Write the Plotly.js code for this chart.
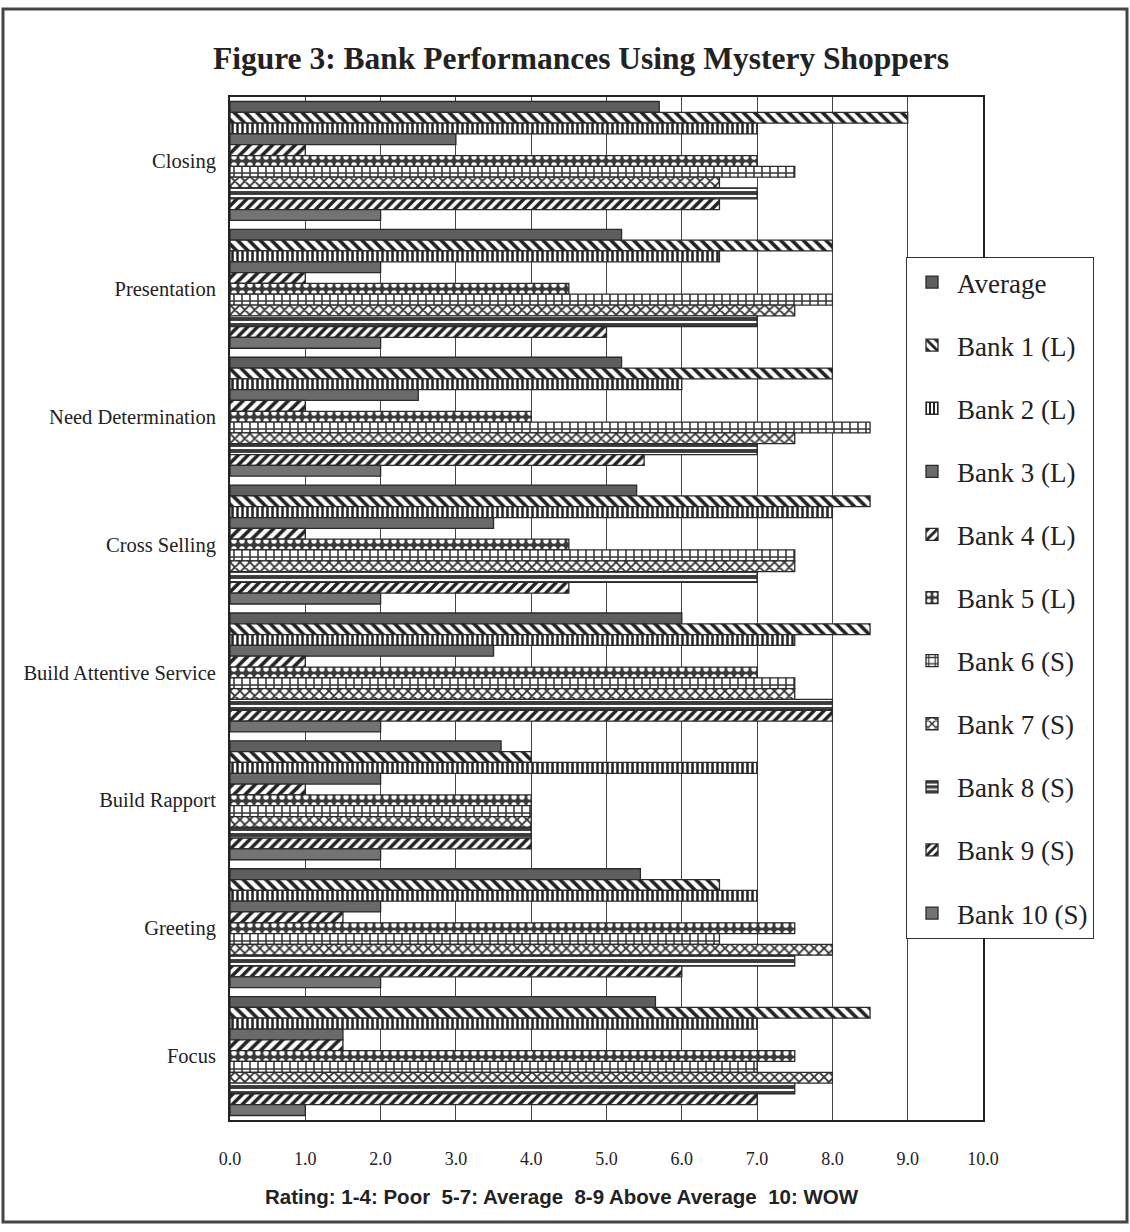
<!DOCTYPE html>
<html>
<head>
<meta charset="utf-8">
<script src="https://cdn.plot.ly/plotly-3.0.1.min.js"></script>
<style>
html,body{margin:0;padding:0;background:#fff;}
#chart{width:1130px;height:1232px;}
</style>
</head>
<body>
<div id="chart"></div>
<script>
// Categories, top to bottom
const categories = ["Closing", "Presentation", "Need Determination", "Cross Selling",
  "Build Attentive Service", "Build Rapport", "Greeting", "Focus"];

const seriesNames = ["Average", "Bank 1 (L)", "Bank 2 (L)", "Bank 3 (L)", "Bank 4 (L)", "Bank 5 (L)",
  "Bank 6 (S)", "Bank 7 (S)", "Bank 8 (S)", "Bank 9 (S)", "Bank 10 (S)"];

// values per series, in category order above
const average = [5.7, 5.2, 5.2, 5.4, 6.0, 3.6, 5.45, 5.65];
const bank1   = [9.0, 8.0, 8.0, 8.5, 8.5, 4.0, 6.5, 8.5];
const bank2   = [7.0, 6.5, 6.0, 8.0, 7.5, 7.0, 7.0, 7.0];
const bank3   = [3.0, 2.0, 2.5, 3.5, 3.5, 2.0, 2.0, 1.5];
const bank4   = [1.0, 1.0, 1.0, 1.0, 1.0, 1.0, 1.5, 1.5];
const bank5   = [7.0, 4.5, 4.0, 4.5, 7.0, 4.0, 7.5, 7.5];
const bank6   = [7.5, 8.0, 8.5, 7.5, 7.5, 4.0, 6.5, 7.0];
const bank7   = [6.5, 7.5, 7.5, 7.5, 7.5, 4.0, 8.0, 8.0];
const bank8   = [7.0, 7.0, 7.0, 7.0, 8.0, 4.0, 7.5, 7.5];
const bank9   = [6.5, 5.0, 5.5, 4.5, 8.0, 4.0, 6.0, 7.0];
const bank10  = [2.0, 2.0, 2.0, 2.0, 2.0, 2.0, 2.0, 1.0];

const seriesValues = [average, bank1, bank2, bank3, bank4, bank5, bank6, bank7, bank8, bank9, bank10];

const xTicks = [0, 1, 2, 3, 4, 5, 6, 7, 8, 9, 10];

// styling per series
const styles = [
  {color: "#5e5e5e", pattern: {shape: ""}},
  {color: "#fff", pattern: {shape: "\\", fgcolor: "#222", bgcolor: "#fff", size: 8, solidity: 0.45}},
  {color: "#fff", pattern: {shape: "|", fgcolor: "#222", bgcolor: "#fff", size: 5, solidity: 0.5}},
  {color: "#6a6a6a", pattern: {shape: ""}},
  {color: "#fff", pattern: {shape: "/", fgcolor: "#222", bgcolor: "#fff", size: 8, solidity: 0.45}},
  {color: "#333", pattern: {shape: ".", fgcolor: "#fff", bgcolor: "#3a3a3a", size: 8, solidity: 0.35}},
  {color: "#fff", pattern: {shape: "+", fgcolor: "#333", bgcolor: "#fff", size: 8, solidity: 0.35}},
  {color: "#fff", pattern: {shape: "x", fgcolor: "#333", bgcolor: "#fff", size: 7, solidity: 0.45}},
  {color: "#333", pattern: {shape: "-", fgcolor: "#fff", bgcolor: "#3a3a3a", size: 6, solidity: 0.35}},
  {color: "#fff", pattern: {shape: "/", fgcolor: "#222", bgcolor: "#fff", size: 7, solidity: 0.5}},
  {color: "#737373", pattern: {shape: ""}}
];

const traces = seriesNames.map((name, i) => ({
  type: "bar",
  orientation: "h",
  name: name,
  x: seriesValues[i],
  y: categories,
  legendgroup: "g" + i,
  marker: {
    color: styles[i].color,
    pattern: styles[i].pattern,
    line: {color: "#2a2a2a", width: 1.3}
  },
  hoverinfo: "x+name"
}));

const L = 230, R = 147, T = 97, B = 112;
const W = 1130 - L - R, H = 1232 - T - B;
const px2x = p => (p - L) / W;
const py2y = p => 1 - (p - T) / H;

const layout = {
  width: 1130,
  height: 1232,
  margin: {l: L, r: R, t: T, b: B},
  paper_bgcolor: "#fff",
  plot_bgcolor: "#fff",
  barmode: "group",
  bargap: 0.07,
  bargroupgap: 0,
  title: {
    text: "<b>Figure 3: Bank Performances Using Mystery Shoppers</b>",
    font: {family: "Liberation Serif, Times New Roman, serif", size: 31.5, color: "#222"},
    x: 581 / 1130, xanchor: "center",
    y: 1 - 58 / 1232, yanchor: "middle", yref: "container"
  },
  xaxis: {
    range: [0, 10],
    tickvals: xTicks,
    tickformat: ".1f",
    showgrid: true,
    gridcolor: "#444",
    gridwidth: 1,
    zeroline: false,
    showline: true,
    linecolor: "#222",
    linewidth: 2,
    mirror: true,
    ticks: "",
    ticklabelstandoff: 21,
    tickfont: {family: "Liberation Serif, Times New Roman, serif", size: 18, color: "#222"},
    fixedrange: true
  },
  yaxis: {
    autorange: "reversed",
    type: "category",
    showgrid: false,
    showline: true,
    linecolor: "#222",
    linewidth: 2,
    mirror: true,
    ticks: "",
    ticklabelstandoff: 8,
    tickfont: {family: "Liberation Serif, Times New Roman, serif", size: 20.5, color: "#222"},
    fixedrange: true
  },
  legend: {
    x: px2x(906), xanchor: "left",
    y: py2y(257), yanchor: "top",
    bgcolor: "#fff",
    bordercolor: "#333",
    borderwidth: 1,
    tracegroupgap: 25,
    traceorder: "grouped",
    font: {family: "Liberation Serif, Times New Roman, serif", size: 27, color: "#222"},
    itemwidth: 40
  },
  annotations: [{
    text: "<b>Rating: 1-4: Poor  5-7: Average  8-9 Above Average  10: WOW</b>",
    xref: "paper", yref: "paper",
    x: px2x(562), y: py2y(1196),
    xanchor: "center", yanchor: "middle",
    showarrow: false,
    font: {family: "Liberation Sans Narrow, Liberation Sans, Arial, sans-serif", size: 20.5, color: "#222"}
  }],
  shapes: [{
    type: "rect", xref: "paper", yref: "paper",
    x0: px2x(3), x1: px2x(1127), y0: py2y(1222), y1: py2y(9),
    line: {color: "#444", width: 3},
    fillcolor: "rgba(0,0,0,0)",
    layer: "below"
  }],
  showlegend: true
};

Plotly.newPlot("chart", traces, layout, {displayModeBar: false, staticPlot: true});
</script>
</body>
</html>
